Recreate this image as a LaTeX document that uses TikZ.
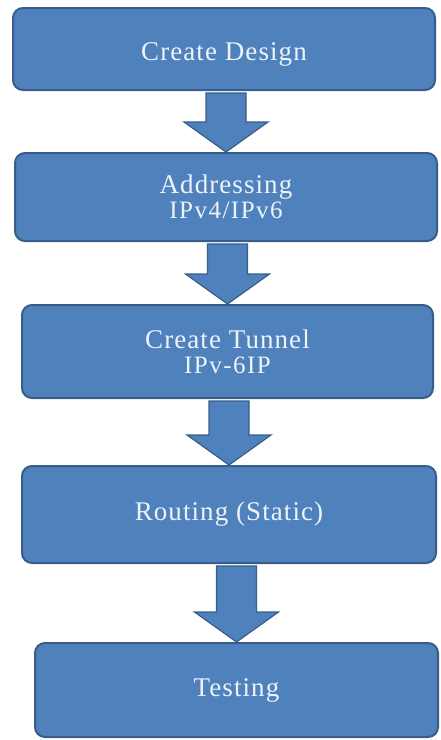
\documentclass[tikz,border=0pt]{standalone}
\usepackage{fontspec}
\setmainfont{Liberation Serif}
\usetikzlibrary{calc,positioning}
\definecolor{boxfill}{RGB}{79,129,189}
\definecolor{boxline}{RGB}{56,93,138}
\definecolor{boxtext}{RGB}{238,243,250}
\tikzset{
  phase/.style={
    draw=boxline,
    fill=boxfill,
    line width=1pt,
    rounded corners=5pt,
    inner sep=0pt,
    align=center,
    text=boxtext,
    font=\fontsize{13.5}{12.5}\selectfont\addfontfeature{LetterSpace=4}
  },
  bigarrow/.style={
    fill=boxfill,
    draw=boxline,
    line width=0.6pt,
    line join=miter
  }
}
\def\shaftHalf{10pt}
\def\headHalf{21pt}
\def\headLen{15pt}
% block arrow from the bottom of one box to the top of the next
\newcommand{\fatarrow}[2]{%
  \filldraw[bigarrow] let \p1=(#1.south), \p2=(#2.north) in
    (\x2-\shaftHalf,\y1-1pt) -- (\x2+\shaftHalf,\y1-1pt)
    -- (\x2+\shaftHalf,\y2+\headLen) -- (\x2+\headHalf,\y2+\headLen)
    -- (\x2,\y2) -- (\x2-\headHalf,\y2+\headLen)
    -- (\x2-\shaftHalf,\y2+\headLen) -- cycle;}
\newcommand{\subline}[1]{{\fontsize{12.5}{12.5}\selectfont\addfontfeature{LetterSpace=6}#1}}

\begin{document}
\begin{tikzpicture}[x=0.5pt,y=0.5pt]
  % keep the page at the size of the original figure
  \useasboundingbox (0,0) rectangle (440,-740);

  % the five stages, top to bottom
  \node[phase, minimum width=211pt, minimum height=41pt, text height=14pt] (design) at (224,-49) {Create Design};
  \node[phase, minimum width=211pt, minimum height=44pt] (addr) at (226,-197)
    {Addressing\\\subline{IPv4/IPv6}};
  \node[phase, minimum width=205.5pt, minimum height=46.5pt] (tunnel) at (227.5,-351.5)
    {Create Tunnel\\\subline{IPv-6IP}};
  \node[phase, minimum width=207pt, minimum height=48.5pt] (routing) at (229,-514.5) {Routing (Static)};
  \node[phase, minimum width=201.5pt, minimum height=47pt] (testing) at (236.5,-690) {Testing};

  % fat arrows between the stages
  \fatarrow{design}{addr}
  \fatarrow{addr}{tunnel}
  \fatarrow{tunnel}{routing}
  \fatarrow{routing}{testing}
\end{tikzpicture}
\end{document}
